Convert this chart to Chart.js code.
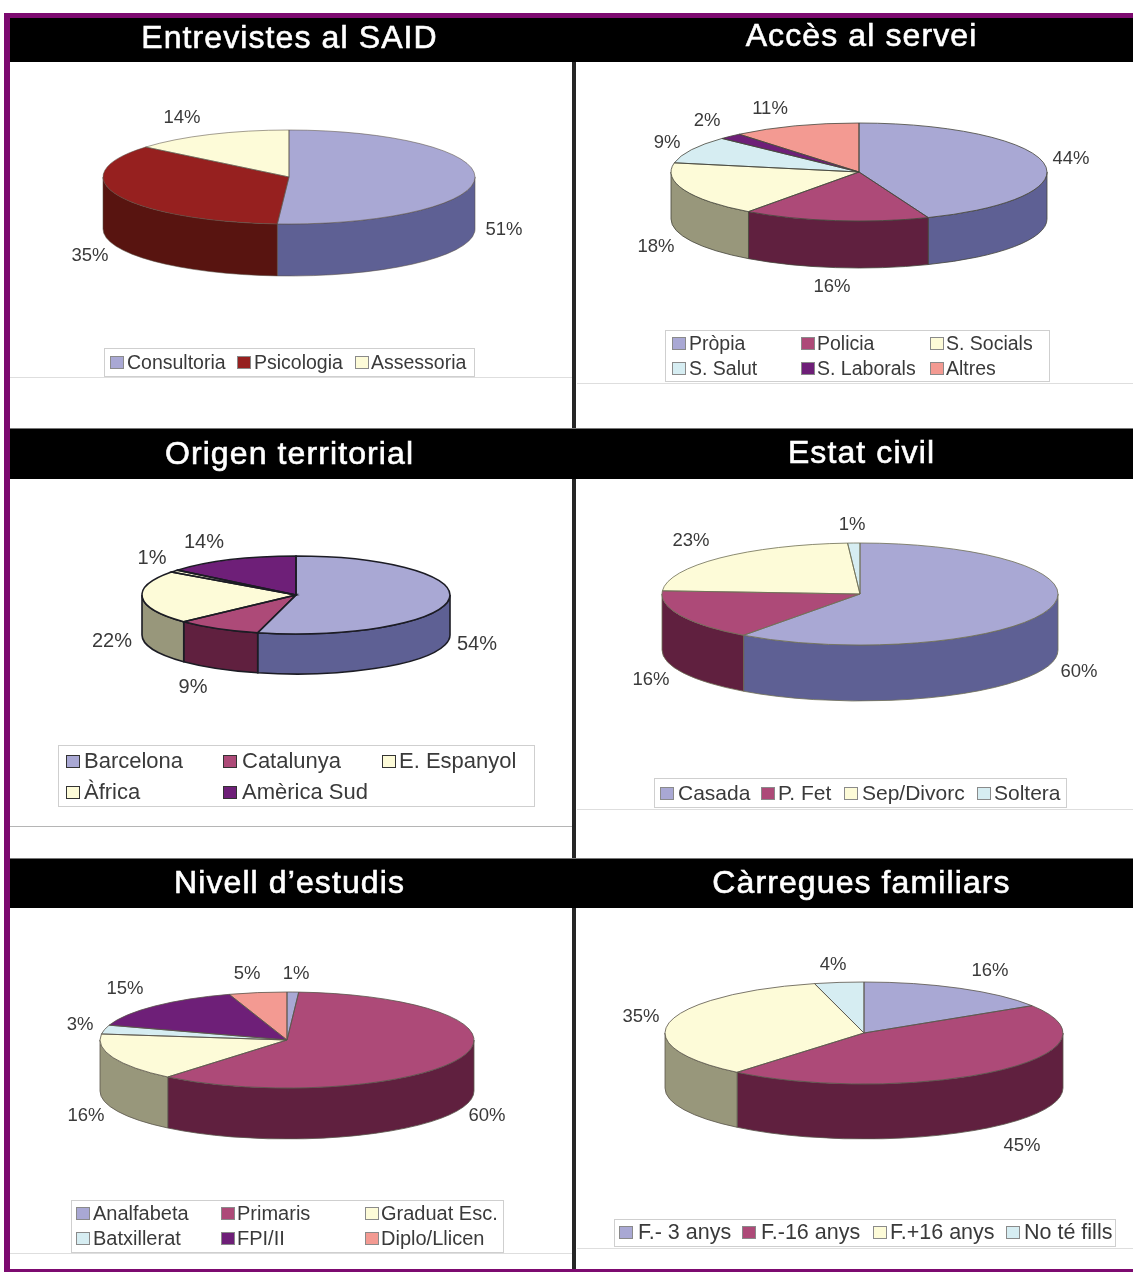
<!DOCTYPE html>
<html>
<head>
<meta charset="utf-8">
<title>SAID</title>
<script src="https://cdn.jsdelivr.net/npm/chart.js@4"></script>
<style>
  html, body { margin: 0; padding: 0; background: #fff; }
  body { position: relative; width: 1133px; height: 1272px; overflow: hidden; font-family: "Liberation Sans", sans-serif; }
  .line, .bar, .legend, canvas { position: absolute; }
  .bar { background: #000; color: #fff; text-align: center; font-size: 32px; font-weight: 400; letter-spacing: 1.1px; -webkit-text-stroke: .6px #fff; box-sizing: border-box; filter: blur(.4px); }
  canvas { filter: blur(.6px); }
  .legend { border: 1px solid #cfcfcf; box-sizing: border-box; filter: blur(.6px); }
  .legend span { position: absolute; white-space: nowrap; line-height: 20px; color: #3a3a3a; }
  .legend i { position: absolute; width: 12px; height: 11px; border: 1px solid #8a8a8a; }
</style>
</head>
<body>
<script>
// slices, clockwise from twelve o'clock
const entrevistesLabels = ['Consultoria', 'Psicologia', 'Assessoria'];
const entrevistesValues = [51, 35, 14];
const accesLabels = ['Pròpia', 'Policia', 'S. Socials', 'S. Salut', 'S. Laborals', 'Altres'];
const accesValues = [44, 16, 18, 9, 2, 11];
const origenLabels = ['Barcelona', 'Catalunya', 'E. Espanyol', 'Àfrica', 'Amèrica Sud'];
const origenValues = [54, 9, 22, 1, 14];
const estatLabels = ['Casada', 'P. Fet', 'Sep/Divorc', 'Soltera'];
const estatValues = [60, 16, 23, 1];
const nivellLabels = ['Analfabeta', 'Primaris', 'Graduat Esc.', 'Batxillerat', 'FPI/II', 'Diplo/Llicen'];
const nivellValues = [1, 60, 16, 3, 15, 5];
const carreguesLabels = ['F.- 3 anys', 'F.-16 anys', 'F.+16 anys', 'No té fills'];
const carreguesValues = [16, 45, 35, 4];

// top face, side wall
const BLUE = ['#a9a8d4', '#5e6094'];
const RED = ['#96201f', '#581410'];
const CREAM = ['#fdfbd8', '#98977b'];
const WINE = ['#ad4a78', '#60203f'];
const SKY = ['#d6edf2', '#8a9ba0'];
const PURPLE = ['#6e1f78', '#401048'];
const SALMON = ['#f39a92', '#95605c'];

const panels = [
  { title: 'Entrevistes al SAID', titleBox: [10, 18, 562, 44, 37], titlePad: -3, labels: entrevistesLabels, values: entrevistesValues,
    colors: [BLUE, RED, CREAM], line: 'rgba(90,80,70,.55)', lineWidth: 1,
    pie: { cx: 289, cy: 177, rx: 186, ry: 47, depth: 52 },
    pct: [[215, 53], [-199, 79], [-107, -59]],
    legendBox: [104, 348, 371, 29], legendFont: 19.5,
    legend: [[5, 5, 22], [132, 5, 149], [250, 5, 266]] },
  { title: 'Accès al servei', titleBox: [572, 18, 561, 44, 35], titlePad: 18, labels: accesLabels, values: accesValues,
    colors: [BLUE, WINE, CREAM, SKY, PURPLE, SALMON], line: 'rgba(70,70,60,.8)', lineWidth: 1,
    pie: { cx: 859, cy: 172, rx: 188, ry: 49, depth: 47 },
    pct: [[212, -13], [-27, 115], [-203, 75], [-192, -29], [-152, -51], [-89, -63]],
    legendBox: [665, 330, 385, 52], legendFont: 19.5,
    legend: [[6, 4, 23], [135, 4, 151], [264, 4, 280], [6, 29, 23], [135, 29, 151], [264, 29, 280]] },
  { title: 'Origen territorial', titleBox: [10, 429, 562, 50, 453], titlePad: -3, labels: origenLabels, values: origenValues,
    colors: [BLUE, WINE, CREAM, CREAM, PURPLE], line: '#1c1c24', lineWidth: 1.6,
    pie: { cx: 296, cy: 595, rx: 154, ry: 39, depth: 40 },
    pct: [[181, 49], [-103, 92], [-184, 46], [-144, -37], [-92, -53]],
    legendBox: [58, 745, 477, 62], legendFont: 22, swatchLine: '#333',
    legend: [[7, 7, 25], [164, 7, 183], [323, 7, 340], [7, 38, 25], [164, 38, 183]] },
  { title: 'Estat civil', titleBox: [572, 429, 561, 50, 452], titlePad: 18, labels: estatLabels, values: estatValues,
    colors: [BLUE, WINE, CREAM, SKY], line: 'rgba(110,110,85,.8)', lineWidth: 1,
    pie: { cx: 860, cy: 594, rx: 198, ry: 51, depth: 56 },
    pct: [[219, 78], [-209, 86], [-169, -53], [-8, -69]],
    legendBox: [654, 778, 413, 30], legendFont: 21,
    legend: [[5, 6, 23], [106, 6, 123], [189, 6, 207], [322, 6, 339]] },
  { title: 'Nivell d’estudis', titleBox: [10, 859, 562, 49, 882], titlePad: -3, labels: nivellLabels, values: nivellValues,
    colors: [BLUE, WINE, CREAM, SKY, PURPLE, SALMON], line: 'rgba(90,85,75,.8)', lineWidth: 1,
    pie: { cx: 287, cy: 1040, rx: 187, ry: 48, depth: 51 },
    pct: [[9, -66], [200, 76], [-201, 76], [-207, -15], [-162, -51], [-40, -66]],
    legendBox: [71, 1200, 433, 53], legendFont: 20,
    legend: [[4, 4, 21], [149, 4, 165], [293, 4, 309], [4, 29, 21], [149, 29, 165], [293, 29, 309]] },
  { title: 'Càrregues familiars', titleBox: [572, 859, 561, 49, 882], titlePad: 18, labels: carreguesLabels, values: carreguesValues,
    colors: [BLUE, WINE, CREAM, SKY], line: 'rgba(90,85,75,.8)', lineWidth: 1,
    pie: { cx: 864, cy: 1033, rx: 199, ry: 51, depth: 55 },
    pct: [[126, -62], [158, 113], [-223, -16], [-31, -68]],
    legendBox: [614, 1219, 502, 28], legendFont: 21.5,
    legend: [[4, 4, 23], [127, 4, 146], [258, 4, 275], [391, 4, 409]] }
];

// frame, dividers and the faint plot lines: x, y, w, h, colour
const rules = [
  [4, 13, 1129, 5, '#7d0a70'], [4, 13, 6, 1259, '#7d0a70'], [10, 1269, 1123, 3, '#7d0a70'],
  [572, 62, 4, 1207, '#262626'],
  [10, 428, 1123, 1, '#777'], [10, 858, 1123, 1, '#777'],
  [10, 377, 562, 1, '#dedede'], [577, 383, 556, 1, '#dedede'],
  [10, 826, 562, 1, '#b5b5b5'], [577, 809, 556, 1, '#dedede'],
  [10, 1253, 562, 1, '#dedede'], [577, 1248, 556, 1, '#dedede']
];

Chart.defaults.animation = false;

// squash the pie into an ellipse, put the rim below it, then outline at full width
const tiltPlugin = {
  id: 'tilt',
  beforeDatasetsDraw(chart, args, opts) {
    const ctx = chart.ctx;
    const p = opts.pie;
    const arcs = chart.getDatasetMeta(0).data;
    arcs.forEach((arc, i) => {
      const a = arc.getProps(['x', 'y', 'startAngle', 'endAngle']);
      const from = Math.max(a.startAngle, 0);
      const to = Math.min(a.endAngle, Math.PI);
      if (to <= from) return;
      ctx.beginPath();
      ctx.ellipse(a.x, a.y, p.rx, p.ry, 0, from, to);
      ctx.ellipse(a.x, a.y + p.depth, p.rx, p.ry, 0, to, from, true);
      ctx.closePath();
      ctx.fillStyle = opts.walls[i];
      ctx.fill();
      ctx.lineWidth = opts.lineWidth;
      ctx.strokeStyle = opts.line;
      ctx.stroke();
    });
    const c = arcs[0].getProps(['x', 'y']);
    ctx.save();
    ctx.translate(c.x, c.y);
    ctx.scale(1, p.ry / p.rx);
    ctx.translate(-c.x, -c.y);
  },
  afterDatasetsDraw(chart, args, opts) {
    const ctx = chart.ctx;
    ctx.restore();
    const p = opts.pie;
    const arcs = chart.getDatasetMeta(0).data;
    arcs.forEach(arc => {
      const a = arc.getProps(['x', 'y', 'startAngle', 'endAngle']);
      ctx.beginPath();
      ctx.moveTo(a.x, a.y);
      ctx.ellipse(a.x, a.y, p.rx, p.ry, 0, a.startAngle, a.endAngle);
      ctx.closePath();
      ctx.lineWidth = opts.lineWidth;
      ctx.strokeStyle = opts.line;
      ctx.stroke();
    });
    const c = arcs[0].getProps(['x', 'y']);
    ctx.fillStyle = '#3a3a3a';
    ctx.font = opts.pctFont;
    ctx.textAlign = 'center';
    ctx.textBaseline = 'middle';
    chart.data.datasets[0].data.forEach((v, i) => {
      ctx.fillText(v + '%', c.x + opts.pct[i][0], c.y + opts.pct[i][1]);
    });
  }
};

function addBox(className, x, y, w, h) {
  const el = document.createElement('div');
  el.className = className;
  el.style.cssText = `left:${x}px;top:${y}px;width:${w}px;height:${h}px;`;
  document.body.appendChild(el);
  return el;
}

rules.forEach(r => { addBox('line', r[0], r[1], r[2], r[3]).style.background = r[4]; });

panels.forEach((panel, n) => {
  const b = panel.titleBox;
  const bar = addBox('bar', b[0], b[1], b[2], b[3]);
  bar.textContent = panel.title;
  bar.style.lineHeight = (2 * (b[4] - b[1])) + 'px';
  if (panel.titlePad > 0) bar.style.paddingLeft = panel.titlePad + 'px';
  else bar.style.paddingRight = -panel.titlePad + 'px';

  const p = panel.pie;
  const size = 2 * (p.rx + 70);
  const canvas = document.createElement('canvas');
  canvas.style.left = (p.cx - size / 2) + 'px';
  canvas.style.top = (p.cy - size / 2) + 'px';
  canvas.width = size;
  canvas.height = size;
  document.body.appendChild(canvas);

  new Chart(canvas, {
    type: 'pie',
    data: {
      labels: panel.labels,
      datasets: [{
        data: panel.values,
        backgroundColor: panel.colors.map(c => c[0]),
        borderWidth: 0,
        radius: p.rx
      }]
    },
    options: {
      responsive: false,
      events: [],
      plugins: {
        legend: { display: false },
        tooltip: { enabled: false },
        tilt: {
          pie: p,
          walls: panel.colors.map(c => c[1]),
          line: panel.line,
          lineWidth: panel.lineWidth,
          pct: panel.pct,
          pctFont: n === 2 ? '20px "Liberation Sans"' : '18.5px "Liberation Sans"'
        }
      }
    },
    plugins: [tiltPlugin]
  });

  const lb = panel.legendBox;
  const box = addBox('legend', lb[0], lb[1], lb[2], lb[3]);
  panel.labels.forEach((label, i) => {
    const pos = panel.legend[i];
    const sw = document.createElement('i');
    sw.style.left = pos[0] + 'px';
    sw.style.top = (pos[1] + 2) + 'px';
    sw.style.background = panel.colors[i][0];
    if (panel.swatchLine) sw.style.borderColor = panel.swatchLine;
    box.appendChild(sw);
    const t = document.createElement('span');
    t.textContent = label;
    t.style.left = pos[2] + 'px';
    t.style.top = (pos[1] - 2) + 'px';
    t.style.fontSize = panel.legendFont + 'px';
    box.appendChild(t);
  });
});
</script>
</body>
</html>
